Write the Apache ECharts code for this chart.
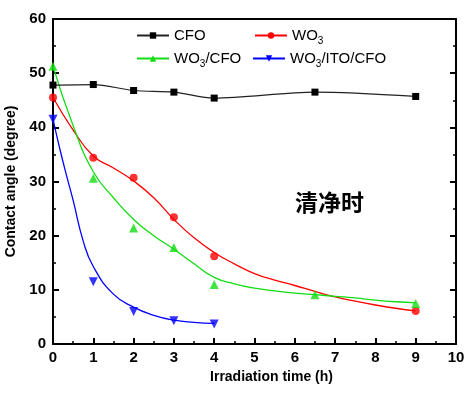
<!DOCTYPE html>
<html><head><meta charset="utf-8">
<script src="https://cdn.jsdelivr.net/npm/echarts@6/dist/echarts.min.js"></script>
<style>html,body{margin:0;padding:0;background:#fff}#c{width:470px;height:394px}</style>
</head><body><div id="c"></div>
<script>
// measured points
const cfoPts = [[0,47.8],[1,47.9],[2,46.8],[3,46.5],[4,45.4],[6.5,46.5],[9,45.7]];
const wo3Pts = [[0,45.5],[1,34.4],[2,30.7],[3,23.4],[4,16.2],[9,6.1]];
const wo3cfoPts = [[0,51.3],[1,30.6],[2,21.4],[3,17.8],[4,11.0],[6.5,9.1],[9,7.5]];
const itoPts = [[0,41.5],[1,11.5],[2,6.0],[3,4.3],[4,3.7]];
// fitted curves
const wo3Fit = [[0,45.5],[0.5,39.5],[1,34.7],[1.5,32.5],[2,30.1],[2.5,27],[3,23],[3.5,19.6],[4,16.9],[4.5,14.8],[5,13.0],[5.5,11.8],[6,10.8],[6.5,9.7],[7,8.7],[7.5,7.9],[8,7.2],[8.5,6.6],[9,6.1]];
const wo3cfoFit = [[0,51.3],[0.5,40.3],[1,31.8],[1.5,27],[2,23],[2.5,20],[3,17.5],[3.5,14.8],[4,12.3],[4.5,11.1],[5,10.3],[5.5,9.8],[6,9.4],[6.5,9.1],[7,8.8],[7.5,8.5],[8,8.1],[8.5,7.8],[9,7.6]];
const itoFit = [[0,41.5],[0.17,36],[0.34,31],[0.5,26.5],[0.75,19],[1,14.3],[1.5,9.2],[2,6.8],[2.5,5.3],[3,4.4],[3.5,4.0],[4,3.8]];
const xTicks = {min:0,max:10,interval:1};
const yTicks = {min:0,max:60,interval:10};
const names = ['CFO','WO3','WO3/CFO','WO3/ITO/CFO'];
const labels = {'CFO':'{a|CFO}','WO3':'{a|WO}{s|3}','WO3/CFO':'{a|WO}{s|3}{a|/CFO}','WO3/ITO/CFO':'{a|WO}{s|3}{a|/ITO/CFO}'};
const colors = ['#000000','#ff0000','#11dd11','#0000ff'];

const FONT = 'Liberation Sans, Arial, sans-serif';
const chart = echarts.init(document.getElementById('c'), null, {renderer:'canvas'});
const legendText = {fontFamily:FONT,fontSize:15,color:'#000',rich:{a:{fontFamily:FONT,fontSize:15,color:'#000'},s:{fontFamily:FONT,fontSize:10,color:'#000',padding:[11,0,0,0]}}};
function leg(name,left,top){return {data:[name],left:left,top:top,itemWidth:32,itemHeight:8,itemGap:0,padding:0,formatter:n=>labels[n],textStyle:legendText,selectedMode:false};}
const axisLine = {show:true,onZero:false,lineStyle:{color:'#000',width:2}};
chart.setOption({
  animation:false,
  grid:{left:53,right:14,top:19,bottom:50,containLabel:false,outerBoundsMode:'none'},
  title:{text:'清净时',left:295,top:191,padding:0,textStyle:{fontFamily:'Noto Sans CJK SC',fontSize:23,fontWeight:'bold',color:'#000'}},
  legend:[leg(names[0],136,28),leg(names[1],254,28),leg(names[2],136,51),leg(names[3],252,51)],
  xAxis:[{type:'value',min:xTicks.min,max:xTicks.max,interval:xTicks.interval,position:'bottom',
    name:'Irradiation time (h)',nameLocation:'middle',nameGap:26,
    nameTextStyle:{fontFamily:FONT,fontSize:14,fontWeight:'bold',color:'#000',padding:[0,0,0,34]},
    axisLine:axisLine,axisTick:{inside:true,length:6,lineStyle:{width:2,color:'#000'}},
    minorTick:{show:true,splitNumber:2,length:3,lineStyle:{width:1.5,color:'#000'}},
    axisLabel:{margin:6,fontFamily:FONT,fontSize:15,fontWeight:'bold',color:'#000'},splitLine:{show:false}},
   {type:'value',min:xTicks.min,max:xTicks.max,position:'top',axisLine:axisLine,axisTick:{show:false},axisLabel:{show:false},splitLine:{show:false}}],
  yAxis:[{type:'value',min:yTicks.min,max:yTicks.max,interval:yTicks.interval,position:'left',
    name:'Contact angle (degree)',nameLocation:'middle',nameGap:27,
    nameTextStyle:{fontFamily:FONT,fontSize:14,fontWeight:'bold',color:'#000'},
    axisLine:axisLine,axisTick:{inside:true,length:6,lineStyle:{width:2,color:'#000'}},
    minorTick:{show:true,splitNumber:2,length:3,lineStyle:{width:1.5,color:'#000'}},
    axisLabel:{margin:7,fontFamily:FONT,fontSize:15,fontWeight:'bold',color:'#000'},splitLine:{show:false}},
   {type:'value',min:yTicks.min,max:yTicks.max,interval:yTicks.interval,position:'right',
    axisLine:axisLine,axisTick:{inside:true,length:6,lineStyle:{width:2,color:'#000'}},
    minorTick:{show:true,splitNumber:2,length:3,lineStyle:{width:1.5,color:'#000'}},
    axisLabel:{show:false},splitLine:{show:false}}],
  series:[
    {name:'CFO',type:'line',data:cfoPts,smooth:0.3,symbol:'rect',symbolSize:7,color:colors[0],lineStyle:{width:1.2,color:'#222'},z:5},
    {name:'WO3',type:'line',data:wo3Fit,smooth:true,showSymbol:false,symbol:'circle',symbolSize:8,color:colors[1],lineStyle:{width:1.3}},
    {name:'WO3/CFO',type:'line',data:wo3cfoFit,smooth:true,showSymbol:false,symbol:'triangle',symbolSize:9,color:colors[2],lineStyle:{width:1.3}},
    {name:'WO3/ITO/CFO',type:'line',data:itoFit,smooth:true,showSymbol:false,symbol:'triangle',symbolRotate:180,symbolSize:9,color:colors[3],lineStyle:{width:1.3}},
    {type:'scatter',data:wo3Pts,symbol:'circle',symbolSize:8,itemStyle:{color:colors[1]},z:6},
    {type:'scatter',data:wo3cfoPts,symbol:'triangle',symbolSize:9,itemStyle:{color:colors[2]},z:6},
    {type:'scatter',data:itoPts,symbol:'triangle',symbolRotate:180,symbolSize:9,itemStyle:{color:colors[3]},z:6}
  ]
});
</script></body></html>
